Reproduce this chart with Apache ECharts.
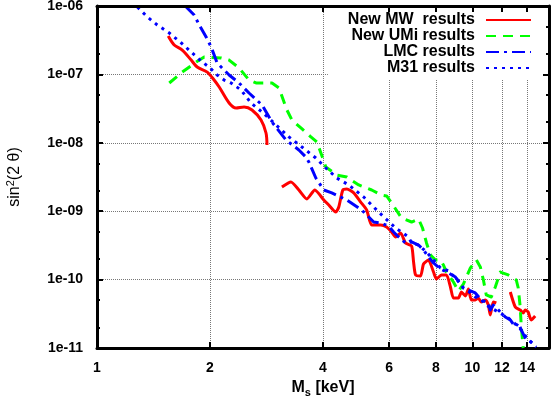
<!DOCTYPE html>
<html><head><meta charset="utf-8">
<script src="https://cdn.jsdelivr.net/npm/echarts@6/dist/echarts.min.js"></script>
<style>html,body{margin:0;padding:0;background:#fff}#c{width:553px;height:398px}</style>
</head><body><div id="c"></div>
<script>
// ---- tick values ----
const xTickValues = [1, 2, 4, 6, 8, 10, 12, 14];
const yMinorTickValues = [2e-11, 5e-11, 2e-10, 5e-10, 2e-9, 5e-9, 2e-8, 5e-8, 2e-7, 5e-7];
const legendNames = ['New MW  results', 'New UMi results', 'LMC results', 'M31 results'];

// ---- New MW (three separate pieces) ----
const mwMassA = [1.548,1.606,1.687,1.782,1.849,1.966,2.051,2.116,2.249,2.347,2.465,2.588,2.735,2.820,2.837];
const mwSinA  = [3.64e-7,2.69e-7,2.27e-7,1.62e-7,1.28e-7,1.08e-7,8.28e-8,6.54e-8,3.82e-8,3.23e-8,3.34e-8,3.02e-8,2.15e-8,1.39e-8,9.29e-9];
const mwMassB = [3.109,3.286,3.450,3.624,3.805,4.020,4.145,4.326,4.406,4.516,4.628,4.830,5.041,5.230,5.393,5.696,5.909,6.092,6.244,6.437,6.637,6.887,6.972,7.057,7.276,7.411,7.641,7.879,8.025,8.274,8.530,8.741,8.903,9.179,9.350,9.581,9.759,9.938,10.18,10.37,10.56,10.83,11.03,11.16,11.37,11.58];
const mwSinB  = [2.26e-9,2.67e-9,2.04e-9,1.51e-9,2.04e-9,1.46e-9,1.23e-9,9.73e-10,1.15e-9,2.04e-9,2.11e-9,1.85e-9,1.36e-9,1.04e-9,6.28e-10,6.28e-10,5.87e-10,4.97e-10,4.20e-10,4.80e-10,3.43e-10,3.10e-10,1.81e-10,1.17e-10,1.13e-10,1.69e-10,1.93e-10,1.29e-10,1.02e-10,1.17e-10,1.17e-10,7.80e-11,5.38e-11,5.38e-11,6.59e-11,5.76e-11,7.29e-11,5.03e-11,5.03e-11,5.38e-11,4.71e-11,5.03e-11,4.25e-11,3.04e-11,4.71e-11,4.55e-11];
const mwMassC = [12.62,13.01,13.41,13.66,13.83,14.08,14.34,14.70];
const mwSinC  = [6.59e-11,3.98e-11,3.59e-11,3.25e-11,3.59e-11,3.36e-11,2.57e-11,2.94e-11];

// ---- New UMi ----
const umiMass = [1.558,1.687,1.838,1.930,2.141,2.249,2.390,2.541,2.652,2.925,3.053,3.206,3.306,3.493,3.713,3.852,3.923,4.070,4.352,4.628,4.980,5.393,5.731,5.909,6.092,6.478,6.887,7.188,7.366,7.548,7.736,7.976,8.224,8.375,8.530,8.903,9.179,9.465,9.879,10.25,10.50,10.70,10.89,11.23,11.51,11.87,12.46,13.09,13.25,13.41,13.50,13.66];
const umiSin  = [7.49e-8,1.08e-7,1.52e-7,1.80e-7,1.74e-7,1.62e-7,1.24e-7,8.28e-8,7.49e-8,7.49e-8,6.33e-8,3.02e-8,2.15e-8,1.65e-8,1.22e-8,1.03e-8,7.85e-9,4.43e-9,3.38e-9,3.16e-9,2.42e-9,2.04e-9,1.72e-9,1.67e-9,1.32e-9,7.96e-10,6.95e-10,7.69e-10,5.68e-10,3.43e-10,2.29e-10,1.93e-10,1.93e-10,1.63e-10,1.29e-10,9.22e-11,6.81e-11,8.62e-11,1.48e-10,1.93e-10,1.53e-10,9.87e-11,5.96e-11,5.57e-11,7.80e-11,1.29e-10,1.17e-10,9.87e-11,7.54e-11,3.98e-11,2.03e-11,1.0e-11];

// ---- LMC ----
const lmcMass = [1.718,1.815,1.872,1.953,2.014,2.089,2.181,2.249,2.390,2.541,2.752,2.925,3.186,3.450,3.601,3.668,3.828,4.020,4.221,4.628,5.073,5.295,5.459,5.696,5.982,6.168,6.360,6.637,6.887,7.188,7.411,7.641,7.879,8.224,8.636,9.014,9.179,9.465,9.759,10.18,10.56,11.03,11.16,11.37,11.87,12.24,12.62,13.01,13.25,13.50,13.91,14.34,14.79];
const lmcSin  = [1.0e-6,7.39e-7,5.28e-7,3.52e-7,2.52e-7,1.47e-7,1.16e-7,9.80e-8,7.49e-8,5.35e-8,3.57e-8,2.01e-8,1.10e-8,7.85e-9,6.20e-9,5.24e-9,3.06e-9,2.04e-9,1.85e-9,1.46e-9,1.04e-9,8.23e-10,6.95e-10,6.72e-10,6.07e-10,4.97e-10,4.20e-10,3.43e-10,3.55e-10,3.20e-10,2.71e-10,2.14e-10,1.75e-10,1.43e-10,1.25e-10,1.09e-10,9.54e-11,7.54e-11,7.05e-11,6.37e-11,5.03e-11,4.55e-11,3.59e-11,4.25e-11,3.36e-11,2.84e-11,2.57e-11,2.03e-11,2.32e-11,1.83e-11,1.31e-11,1.22e-11,1.11e-11];

// ---- M31 ----
const m31Mass = [1.281,1.362,1.447,1.558,1.677,1.793,1.906,1.990,2.089,2.181,2.276,2.420,2.572,2.752,2.961,3.245,3.514,3.828,4.070,4.352,4.685,5.135,5.627,6.244,6.761,6.887,7.188,7.548,7.879,8.224,8.636,9.070,9.465,9.759,10.18,10.56,10.89,11.23,11.72,12.09,12.46,12.85,13.25,13.50,13.91,14.34,14.79];
const m31Sin  = [9.67e-7,6.91e-7,5.28e-7,4.03e-7,2.88e-7,2.06e-7,1.52e-7,1.28e-7,9.80e-8,8.28e-8,7.49e-8,5.91e-8,3.82e-8,2.82e-8,1.95e-8,1.22e-8,8.68e-9,5.99e-9,4.28e-9,3.06e-9,2.42e-9,1.61e-9,9.73e-10,5.68e-10,4.20e-10,3.43e-10,3.20e-10,2.53e-10,1.93e-10,1.48e-10,1.34e-10,1.02e-10,7.54e-11,6.81e-11,5.57e-11,5.03e-11,4.25e-11,3.84e-11,3.36e-11,3.04e-11,2.75e-11,2.40e-11,2.03e-11,1.83e-11,1.45e-11,1.22e-11,1.03e-11];

const pairs = (xs, ys) => xs.map((x, i) => [x, ys[i]]);
const FONT = '"Liberation Sans", Arial, sans-serif';
const X_MIN = 1, X_MAX = 16, Y_MIN = 1e-11, Y_MAX = 1e-6;

const chart = echarts.init(document.getElementById('c'), null, {renderer: 'canvas'});
const frameLine = {show: true, lineStyle: {color: '#000', width: 3}};
const gridLine = {show: true, lineStyle: {color: '#777', width: 1, type: [1, 1]}};

function lineSeries(name, xs, ys, color, type, width, smooth) {
  return {
    name, type: 'line', data: pairs(xs, ys), symbol: 'none', showSymbol: false,
    xAxisIndex: 0, yAxisIndex: 0, clip: true, z: 2, smooth: smooth || false,
    lineStyle: {color, width, type, cap: 'butt', join: 'round'},
    itemStyle: {color}, emphasis: {disabled: true}, animation: false
  };
}

const option = {
  animation: false,
  backgroundColor: '#fff',
  textStyle: {fontFamily: FONT},
  grid: {left: 97, right: 4, top: 6, bottom: 50, containLabel: false, outerBoundsMode: 'none'},
  legend: {
    data: legendNames, orient: 'vertical', right: 6, top: 8, align: 'right',
    itemWidth: 45, itemHeight: 10, itemGap: 0,
    padding: [4, 15, 3, 20], backgroundColor: '#fff', z: 4,
    itemStyle: {opacity: 0},
    textStyle: {fontFamily: FONT, fontSize: 16, fontWeight: 'bold', color: '#000', lineHeight: 16, padding: [0, 6, 0, 0]},
    selectedMode: false
  },
  xAxis: [
    {
      type: 'log', logBase: 10, min: X_MIN, max: X_MAX, position: 'bottom', z: 0,
      name: 'M{s|s} [keV]', nameLocation: 'middle', nameGap: 30,
      nameTextStyle: {fontFamily: FONT, fontSize: 16, fontWeight: 'bold', color: '#000',
        rich: {s: {fontFamily: FONT, fontSize: 11, fontWeight: 'bold', color: '#000', padding: [9, 0, 0, 0]}}},
      axisLine: frameLine,
      axisTick: {show: true, inside: true, length: 6, customValues: xTickValues, lineStyle: {color: '#000', width: 2}},
      axisLabel: {show: true, customValues: xTickValues, margin: 13, fontFamily: FONT, fontSize: 14, fontWeight: 'bold', color: '#000',
        formatter: v => String(Math.round(v))},
      splitLine: gridLine, minorTick: {show: false}
    },
    {
      type: 'log', logBase: 10, min: X_MIN, max: X_MAX, position: 'top', z: 5,
      axisLine: frameLine,
      axisTick: {show: true, inside: true, length: 6, customValues: xTickValues, lineStyle: {color: '#000', width: 2}},
      axisLabel: {show: false}, splitLine: {show: false}
    }
  ],
  yAxis: [
    {
      type: 'log', logBase: 10, min: Y_MIN, max: Y_MAX, position: 'left', z: 0,
      name: 'sin{p|2}(2 θ)', nameLocation: 'middle', nameGap: 72, nameRotate: 90,
      nameTextStyle: {fontFamily: FONT, fontSize: 16, fontWeight: 'normal', color: '#000',
        rich: {p: {fontFamily: FONT, fontSize: 11, color: '#000', padding: [0, 0, 9, 0]}}},
      axisLine: frameLine,
      axisTick: {show: true, inside: true, length: 6, lineStyle: {color: '#000', width: 2}},
      axisLabel: {show: true, margin: 14, fontFamily: FONT, fontSize: 14, fontWeight: 'bold', color: '#000',
        formatter: v => '1e-' + String(-Math.round(Math.log10(v))).padStart(2, '0')},
      splitLine: gridLine
    },
    {
      type: 'log', logBase: 10, min: Y_MIN, max: Y_MAX, position: 'left', z: 1,
      axisLine: {show: false},
      axisTick: {show: true, inside: true, length: 3, customValues: yMinorTickValues, lineStyle: {color: '#000', width: 2}},
      axisLabel: {show: false}, splitLine: {show: false}
    },
    {
      type: 'log', logBase: 10, min: Y_MIN, max: Y_MAX, position: 'right', z: 5,
      axisLine: frameLine,
      axisTick: {show: true, inside: true, length: 6, lineStyle: {color: '#000', width: 2}},
      axisLabel: {show: false}, splitLine: {show: false}
    },
    {
      type: 'log', logBase: 10, min: Y_MIN, max: Y_MAX, position: 'right', z: 5,
      axisLine: {show: false},
      axisTick: {show: true, inside: true, length: 3, customValues: yMinorTickValues, lineStyle: {color: '#000', width: 2}},
      axisLabel: {show: false}, splitLine: {show: false}
    }
  ],
  series: [
    lineSeries(legendNames[0], mwMassA, mwSinA, '#ff0000', 'solid', 3, 0.3),
    lineSeries(legendNames[0], mwMassB, mwSinB, '#ff0000', 'solid', 3, 0.2),
    lineSeries(legendNames[0], mwMassC, mwSinC, '#ff0000', 'solid', 3, 0.2),
    lineSeries(legendNames[1], umiMass, umiSin, '#00ff00', [10, 7], 3),
    lineSeries(legendNames[2], lmcMass, lmcSin, '#0000ff', [13, 5, 3, 5], 3),
    lineSeries(legendNames[3], m31Mass, m31Sin, '#0000ff', [3, 5], 3)
  ]
};
chart.setOption(option);
</script>
</body></html>
